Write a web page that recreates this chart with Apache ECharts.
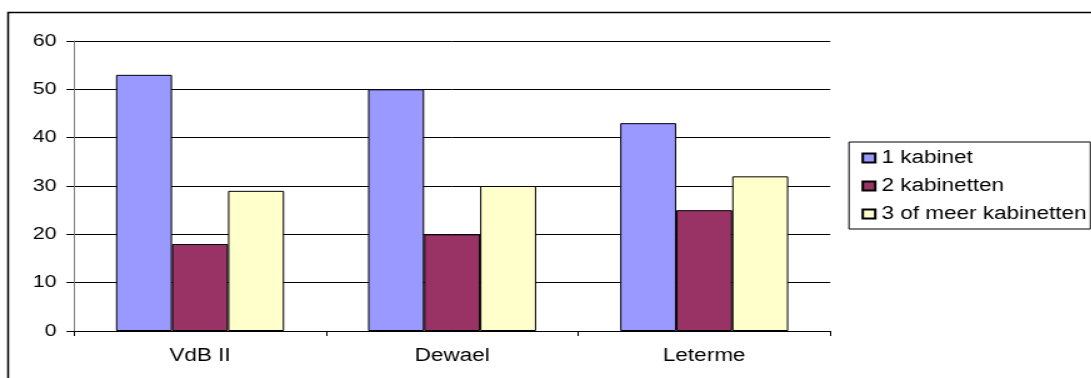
<!DOCTYPE html>
<html>
<head>
<meta charset="utf-8">
<script src="https://cdn.jsdelivr.net/npm/echarts@6/dist/echarts.min.js"></script>
<style>
  html, body { margin: 0; padding: 0; background: #fff; overflow: hidden; }
  /* the chart is laid out in a narrower box and widened horizontally */
  #chart { width: 872.8px; height: 378px; transform: scaleX(1.25); transform-origin: 0 0; }
</style>
</head>
<body>
<div id="chart"></div>
<script>
const categories = ['VdB II', 'Dewael', 'Leterme'];
const seriesNames = ['1 kabinet', '2 kabinetten', '3 of meer kabinetten'];
const oneCabinet = [53, 50, 43];
const twoCabinets = [18, 20, 25];
const threeOrMore = [29, 30, 32];
const yTicks = [0, 10, 20, 30, 40, 50, 60];

const colors = ['#9999FF', '#993366', '#FFFFCC'];
const font = "'Liberation Sans', Arial, sans-serif";

const chart = echarts.init(document.getElementById('chart'), null, { renderer: 'canvas' });

function barSeries(name, data, color) {
  return {
    name: name,
    type: 'bar',
    data: data,
    barGap: '0%',
    barCategoryGap: '33.33%',
    itemStyle: { color: color, borderColor: '#000', borderWidth: 1 },
    emphasis: { disabled: true }
  };
}

chart.setOption({
  animation: false,
  backgroundColor: '#fff',
  textStyle: { fontFamily: font, color: '#000' },
  graphic: [{
    type: 'rect',
    shape: { x: 6.5, y: 12.5, width: 2000, height: 2000 },
    style: { fill: null, stroke: '#000', lineWidth: 1.5 },
    silent: true
  }],
  grid: { left: 59.2, right: 208.8, top: 41, bottom: 47, containLabel: false },
  legend: {
    orient: 'vertical',
    left: 679.2,
    top: 142,
    padding: [7, 3, 6, 10],
    borderColor: '#000',
    borderWidth: 1,
    itemWidth: 10,
    itemHeight: 9,
    itemGap: 10,
    icon: 'rect',
    selectedMode: false,
    textStyle: { fontFamily: font, fontSize: 18, lineHeight: 18, color: '#000' },
    data: seriesNames
  },
  xAxis: {
    type: 'category',
    data: categories,
    boundaryGap: true,
    axisLine: { lineStyle: { color: '#000', width: 1 } },
    axisTick: { show: true, length: 5, lineStyle: { color: '#000' } },
    axisLabel: { fontFamily: font, fontSize: 18, color: '#000', margin: 16 },
    splitLine: { show: false }
  },
  yAxis: {
    type: 'value',
    min: yTicks[0],
    max: yTicks[yTicks.length - 1],
    interval: yTicks[1] - yTicks[0],
    axisLine: { show: true, lineStyle: { color: '#808080', width: 1 } },
    axisTick: { show: true, length: 6, lineStyle: { color: '#000' } },
    axisLabel: { fontFamily: font, fontSize: 17, color: '#000', margin: 14 },
    splitLine: { show: true, lineStyle: { color: '#000', width: 1 } }
  },
  series: [
    barSeries(seriesNames[0], oneCabinet, colors[0]),
    barSeries(seriesNames[1], twoCabinets, colors[1]),
    barSeries(seriesNames[2], threeOrMore, colors[2])
  ]
});
</script>
</body>
</html>
